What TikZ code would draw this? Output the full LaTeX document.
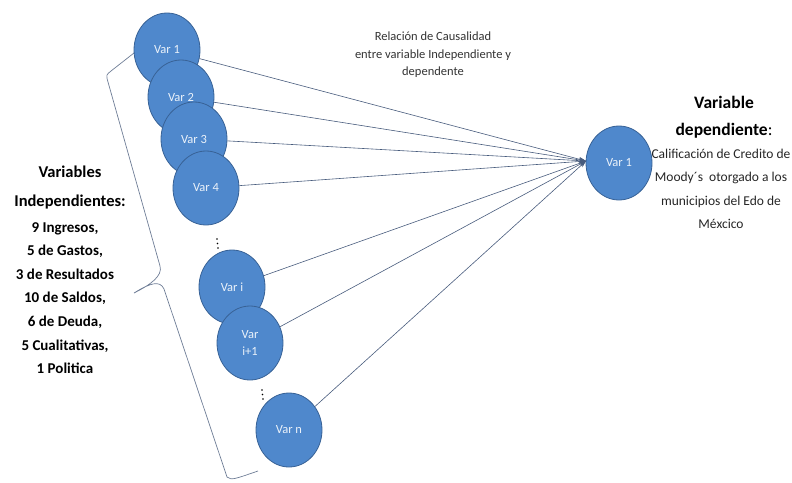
\documentclass[tikz,border=0pt]{standalone}
\usepackage{fontspec}
\setmainfont{Carlito}
\usetikzlibrary{shapes.geometric,arrows.meta}
\definecolor{circfill}{RGB}{79,136,204}
\definecolor{circdraw}{RGB}{56,98,150}
\definecolor{linec}{RGB}{72,92,125}
\definecolor{bracec}{RGB}{110,125,150}
\definecolor{vartext}{RGB}{235,242,250}
\begin{document}
\begin{tikzpicture}[x=1pt,y=-1pt,
  var/.style={ellipse, draw=circdraw, line width=0.8pt, fill=circfill,
    minimum width=66pt, minimum height=74pt, inner sep=0pt, text=vartext,
    font=\fontsize{12.5}{14}\selectfont, align=center},
  conn/.style={draw=linec, line width=0.6pt, -{Stealth[length=7pt,width=4.5pt]}},
  bracestyle/.style={draw=bracec, line width=0.7pt},
  dotstyle/.style={fill=black, draw=none, circle, inner sep=0pt, minimum size=1.6pt}]
\useasboundingbox (0,0) rectangle (792,482);

% brace
\draw[bracestyle] (134,53) -- (111,71) .. controls (106,75) .. (108,82)
  -- (160,266) .. controls (163,276) and (150,285) .. (134,293)
  .. controls (150,283) and (160,280) .. (164,289)
  -- (227,477) .. controls (232,480) .. (258,471);

\coordinate (t) at (586,161);

\node[var] (v1) at (167,50) {Var 1};
\node[var] (v2) at (181,97) {Var 2};
\node[var] (v3) at (194,139) {Var 3};
\node[var] (v4) at (206,188) {Var 4};
\node[var] (vi) at (232,287) {Var i};
\node[var] (vi1) at (250,343) {Var\\[3pt]i+1};
\node[var] (vn) at (289,430) {Var n};
\node[var] (dep) at (619,163) {Var 1};

\draw[conn] (v1) -- (t);
\draw[conn] (v2) -- (t);
\draw[conn] (v3) -- (t);
\draw[conn] (v4) -- (t);
\draw[conn] (vi) -- (t);
\draw[conn] (vi1) -- (t);
\draw[conn] (vn) -- (t);

% dots
\node[dotstyle] (da1) at (217,239) {};
\node[dotstyle] (da2) at (217.5,243.5) {};
\node[dotstyle] (da3) at (218,248) {};
\node[dotstyle] (db1) at (262,390) {};
\node[dotstyle] (db2) at (262.5,394.5) {};
\node[dotstyle] (db3) at (263,399) {};

% texts
\node[align=center, text=black!80, font=\fontsize{12.5}{17.5}\selectfont] (rel) at (433,55)
  {Relación de Causalidad\\entre variable Independiente y\\dependente};

\node[align=center, font=\bfseries\fontsize{16.5}{29}\selectfont] (lt) at (70,188)
  {Variables\\Independientes:};
\node[align=center, font=\bfseries\fontsize{15}{23.6}\selectfont] (ll) at (65,298)
  {9 Ingresos,\\5 de Gastos,\\3 de Resultados\\10 de Saldos,\\6 de Deuda,\\5 Cualitativas,\\1 Politica};

\node[align=center, font=\bfseries\fontsize{17.5}{27}\selectfont] (rt) at (724,117)
  {Variable\\dependiente{\mdseries:}};
\node[align=center, text=black!85, font=\fontsize{13.5}{23.5}\selectfont] (rd) at (721,189)
  {Calificación de Credito de\\Moody´s\ \ otorgado a los\\municipios del Edo de\\Méxcico};
\end{tikzpicture}
\end{document}
